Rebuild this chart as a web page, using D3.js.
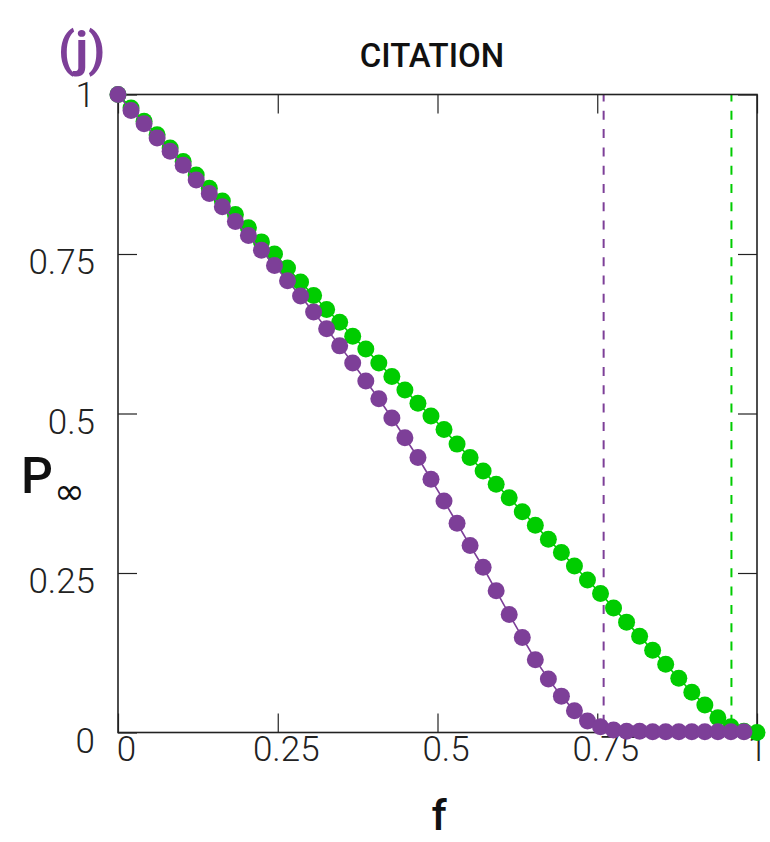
<!DOCTYPE html>
<html lang="en">
<head>
    <meta charset="UTF-8">
    <title>CITATION</title>
    <script src="https://cdn.jsdelivr.net/npm/d3@7"></script>
    <style>
        body { margin: 0; background: #fff; }
    </style>
</head>
<body>
    <div id="chart"></div>

    <script>
        // fraction of removed nodes
        const fValues = [0, 0.0204, 0.0408, 0.0612, 0.0816, 0.1020, 0.1224, 0.1429, 0.1633, 0.1837,
            0.2041, 0.2245, 0.2449, 0.2653, 0.2857, 0.3061, 0.3265, 0.3469, 0.3673, 0.3878,
            0.4082, 0.4286, 0.4490, 0.4694, 0.4898, 0.5102, 0.5306, 0.5510, 0.5714, 0.5918,
            0.6122, 0.6327, 0.6531, 0.6735, 0.6939, 0.7143, 0.7347, 0.7551, 0.7755, 0.7959,
            0.8163, 0.8367, 0.8571, 0.8776, 0.8980, 0.9184, 0.9388, 0.9592, 0.9796, 1.0];

        const purpleP = [1.000, 0.975, 0.954, 0.932, 0.911, 0.889, 0.866, 0.845, 0.824, 0.801,
            0.779, 0.756, 0.732, 0.708, 0.684, 0.659, 0.633, 0.606, 0.579, 0.551,
            0.523, 0.493, 0.462, 0.431, 0.397, 0.363, 0.328, 0.293, 0.259, 0.222,
            0.185, 0.149, 0.114, 0.084, 0.057, 0.034, 0.018, 0.009, 0.004, 0.002,
            0.002, 0.001, 0.001, 0.001, 0.001, 0.001, 0.001, 0.001, 0.001];

        const greenP = [1.000, 0.979, 0.958, 0.937, 0.916, 0.895, 0.874, 0.853, 0.833, 0.812,
            0.791, 0.769, 0.750, 0.728, 0.706, 0.685, 0.663, 0.643, 0.621, 0.601,
            0.579, 0.558, 0.537, 0.516, 0.496, 0.475, 0.452, 0.431, 0.410, 0.389,
            0.368, 0.346, 0.325, 0.303, 0.282, 0.261, 0.239, 0.218, 0.195, 0.173,
            0.151, 0.129, 0.107, 0.085, 0.063, 0.043, 0.023, 0.009, 0.002, 0.000];

        // critical points (dashed lines)
        const fcPurple = 0.76;
        const fcGreen = 0.96;

        const xTicks = [0, 0.25, 0.5, 0.75, 1];
        const xTickLabels = ["0", "0.25", "0.5", "0.75", "1"];
        const yTicks = [0, 0.25, 0.5, 0.75, 1];
        const yTickLabels = ["0", "0.25", "0.5", "0.75", "1"];

        const width = 770;
        const height = 842;
        const marginTop = 94.5;
        const marginRight = 13;
        const marginBottom = 109.5;
        const marginLeft = 118;

        const purple = "#7d3f98";
        const green = "#00cc00";
        const tickFont = "Roboto, 'DejaVu Sans', sans-serif";

        const x = d3.scaleLinear()
            .domain([0, 1])
            .range([marginLeft, width - marginRight]);

        const y = d3.scaleLinear()
            .domain([0, 1])
            .range([height - marginBottom, marginTop]);

        const svg = d3.select("#chart").append("svg")
            .attr("width", width)
            .attr("height", height);

        // dashed critical lines, behind the data
        svg.append("g")
            .selectAll("line")
            .data([[fcPurple, purple], [fcGreen, green]])
            .join("line")
            .attr("x1", d => x(d[0]))
            .attr("x2", d => x(d[0]))
            .attr("y1", y(1))
            .attr("y2", y(0))
            .attr("stroke", d => d[1])
            .attr("stroke-width", 2)
            .attr("stroke-dasharray", "9,9.3")
            .attr("stroke-dashoffset", 2);

        // axes: ticks point inward on all four sides
        const styleTicks = g => {
            g.select(".domain").remove();
            g.selectAll(".tick line").attr("stroke", "#222").attr("stroke-width", 1.2);
            g.selectAll(".tick text")
                .attr("fill", "#222")
                .attr("font-family", tickFont)
                .attr("font-weight", 300)
                .attr("font-size", 35);
        };

        svg.append("g")
            .attr("transform", `translate(0,${y(0)})`)
            .call(d3.axisBottom(x).tickValues(xTicks).tickSize(-19).tickPadding(4)
                .tickFormat((d, i) => xTickLabels[i]))
            .call(styleTicks)
            .call(g => g.selectAll(".tick text").attr("dx", d => d === 1 ? 0 : 8));

        svg.append("g")
            .attr("transform", `translate(0,${y(1)})`)
            .call(d3.axisTop(x).tickValues(xTicks).tickSize(-19).tickFormat(""))
            .call(styleTicks);

        svg.append("g")
            .attr("transform", `translate(${x(0)},0)`)
            .call(d3.axisLeft(y).tickValues(yTicks).tickSize(-19).tickPadding(23)
                .tickFormat((d, i) => yTickLabels[i]))
            .call(styleTicks)
            .call(g => g.selectAll(".tick text").attr("dy", d => d === 1 ? "0.34em" : "0.56em"));

        svg.append("g")
            .attr("transform", `translate(${x(1)},0)`)
            .call(d3.axisRight(y).tickValues(yTicks).tickSize(-19).tickFormat(""))
            .call(styleTicks);

        // frame
        svg.append("rect")
            .attr("x", x(0))
            .attr("y", y(1))
            .attr("width", x(1) - x(0))
            .attr("height", y(0) - y(1))
            .attr("fill", "none")
            .attr("stroke", "#222")
            .attr("stroke-width", 1.6);

        const line = d3.line()
            .x(d => x(d[0]))
            .y(d => y(d[1]));

        const series = [
            { color: green, values: greenP },
            { color: purple, values: purpleP }
        ];

        for (const s of series) {
            const pts = s.values.map((v, i) => [fValues[i], v]);
            const g = svg.append("g");
            g.append("path")
                .datum(pts)
                .attr("fill", "none")
                .attr("stroke", s.color)
                .attr("stroke-width", 1.6)
                .attr("d", line);
            g.selectAll("circle")
                .data(pts)
                .join("circle")
                .attr("cx", d => x(d[0]))
                .attr("cy", d => y(d[1]))
                .attr("r", 8.5)
                .attr("fill", s.color);
        }

        // labels
        svg.append("text")
            .attr("x", 58)
            .attr("y", 66)
            .attr("fill", purple)
            .attr("font-family", "Roboto, sans-serif")
            .attr("font-weight", 700)
            .attr("font-size", 49)
            .text("(j)");

        svg.append("text")
            .attr("x", 432)
            .attr("y", 67)
            .attr("text-anchor", "middle")
            .attr("fill", "#111")
            .attr("font-family", "Roboto, sans-serif")
            .attr("font-weight", 500)
            .attr("font-size", 33)
            .text("CITATION");

        svg.append("text")
            .attr("x", 439)
            .attr("y", 830)
            .attr("text-anchor", "middle")
            .attr("fill", "#111")
            .attr("font-family", "Roboto, sans-serif")
            .attr("font-weight", 500)
            .attr("font-size", 43)
            .text("f");

        const pLabel = svg.append("text")
            .attr("x", 21)
            .attr("y", 493)
            .attr("fill", "#111")
            .attr("font-family", "Roboto, sans-serif")
            .attr("font-weight", 500)
            .attr("font-size", 50);
        pLabel.append("tspan").text("P");
        pLabel.append("tspan")
            .attr("x", 54)
            .attr("y", 504)
            .attr("font-family", "'DejaVu Sans', sans-serif")
            .attr("font-weight", 400)
            .attr("font-size", 37)
            .text("∞");
    </script>
</body>
</html>
